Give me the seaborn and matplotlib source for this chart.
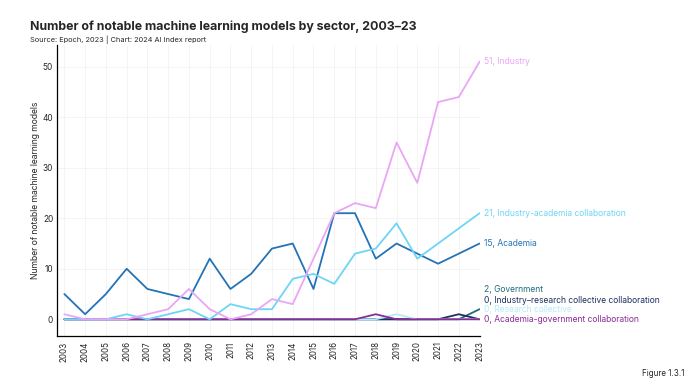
import pandas as pd
import matplotlib.pyplot as plt
import seaborn as sns

# Values
years = list(range(2003, 2024))
industry = [1, 0, 0, 0, 1, 2, 6, 2, 0, 1, 4, 3, 12, 21, 23, 22, 35, 27, 43, 44, 51]
industry_academia = [0, 0, 0, 1, 0, 1, 2, 0, 3, 2, 2, 8, 9, 7, 13, 14, 19, 12, 15, 18, 21]
academia = [5, 1, 5, 10, 6, 5, 4, 12, 6, 9, 14, 15, 6, 21, 21, 12, 15, 13, 11, 13, 15]
government = [0] * 20 + [2]
industry_research = [0] * 19 + [1, 0]
research_collective = [0] * 16 + [1, 0, 0, 0, 0]
academia_government = [0] * 15 + [1, 0, 0, 0, 0, 0]

sectors = ['Government', 'Industry–research collective collaboration', 'Research collective',
           'Academia-government collaboration', 'Academia', 'Industry-academia collaboration', 'Industry']
series = [government, industry_research, research_collective, academia_government,
          academia, industry_academia, industry]
colors = ['#1b6f7a', '#1f2f5e', '#b3ecfa', '#8a2c96', '#2473b6', '#6dd5f6', '#eaa6f6']
# where the end labels sit (data units), small series are spread out
label_y = [5.8, 3.8, 1.9, 0.0, 15, 21, 51]

rows = []
for name, vals in zip(sectors, series):
    for y, v in zip(years, vals):
        rows.append({'year': y, 'count': v, 'sector': name})
df = pd.DataFrame(rows)

sns.set_style('white')
plt.rcParams['font.family'] = ['Inter', 'DejaVu Sans']

fig = plt.figure(figsize=(6.96, 3.90), dpi=100)
ax = fig.add_axes([57.3 / 696, 1 - 335.7 / 390, (480 - 57.3) / 696, (335.7 - 45) / 390])

sns.lineplot(data=df, x='year', y='count', hue='sector', hue_order=sectors,
             palette=dict(zip(sectors, colors)), linewidth=1.3, legend=False, ax=ax)

ax.set_xlim(2002.66, 2023.02)
ax.set_ylim(-3.25, 54.3)
ax.set_xticks(years)
ax.set_xticklabels([str(y) for y in years], rotation=90, fontsize=5.8)
ax.set_yticks([0, 10, 20, 30, 40, 50])
ax.tick_params(axis='y', labelsize=6, length=0, pad=3)
ax.tick_params(axis='x', length=0, pad=4)
ax.grid(True, color='#f2f2f2', linewidth=0.6)
for s in ['top', 'right']:
    ax.spines[s].set_visible(False)
for s in ['left', 'bottom']:
    ax.spines[s].set_color('black')
    ax.spines[s].set_linewidth(0.9)
ax.set_xlabel('')
ax.set_ylabel('Number of notable machine learning models', fontsize=6.2, labelpad=2)

for name, vals, c, ly in zip(sectors, series, colors, label_y):
    ax.annotate(f'{vals[-1]}, {name}', xy=(2023, ly), xytext=(3.5, 0),
                textcoords='offset points', va='center', ha='left',
                fontsize=6.1, color=c, annotation_clip=False)

fig.text(30 / 696, 1 - 27 / 390, 'Number of notable machine learning models by sector, 2003–23',
         fontsize=8.9, fontweight='bold', va='center', ha='left')
fig.text(30 / 696, 1 - 40 / 390, 'Source: Epoch, 2023 | Chart: 2024 AI Index report',
         fontsize=5.3, va='center', ha='left')
fig.text(684 / 696, 1 - 374 / 390, 'Figure 1.3.1', fontsize=5.8, va='center', ha='right')

fig.savefig('out.png', dpi=100)
